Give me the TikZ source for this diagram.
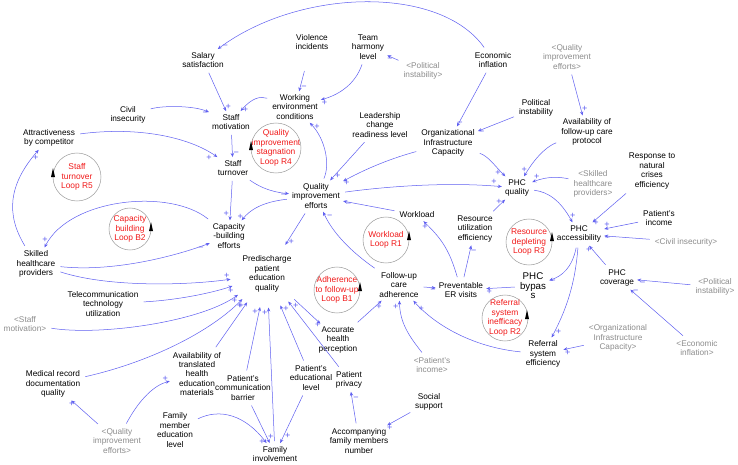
\documentclass[tikz,border=0pt]{standalone}
\usepackage{fontspec}
\setmainfont{Liberation Sans}
\usetikzlibrary{arrows.meta,shapes.geometric}
\definecolor{lnkblue}{RGB}{95,95,240}
\definecolor{shdgray}{RGB}{140,140,140}
\definecolor{loopred}{RGB}{240,25,25}
\begin{document}
\begin{tikzpicture}[x=0.75pt,y=-0.75pt,
  var/.style={align=center,inner sep=2.2pt,font=\fontsize{6.2}{7.1}\selectfont},
  shd/.style={var,text=shdgray},
  pde/.style={var,ellipse,inner sep=0pt,minimum width=55pt,minimum height=50pt},
  lnk/.style={draw=lnkblue,line width=0.38pt,shorten <=1.5pt,-{Stealth[length=3pt,width=2.5pt]}},
  sgn/.style={text=lnkblue,inner sep=0.8pt,font=\fontsize{6.8}{7}\selectfont},
  loopc/.style={draw=gray!75,line width=0.4pt},
  looptxt/.style={align=center,text=loopred,font=\fontsize{6.3}{7.1}\selectfont}]
\useasboundingbox (0,0) rectangle (738,464);

% Marking the variables
\node[var] (salary) at (203,60) {Salary\\satisfaction};
\node[var] (violence) at (312,42) {Violence\\incidents};
\node[var] (harmony) at (368,47) {Team\\harmony\\level};
\node[var] (inflation) at (493,60) {Economic\\inflation};
\node[shd] (polinstA) at (423,71) {<Political\\instability>};
\node[shd] (qieA) at (567,57) {<Quality\\improvement\\efforts>};
\node[var] (civil) at (128,115) {Civil\\insecurity};
\node[var] (motiv) at (231,122) {Staff\\motivation};
\node[var] (workenv) at (295,107) {Working\\environment\\conditions};
\node[var] (leader) at (380,125) {Leadership\\change\\readiness level};
\node[var] (polinst) at (536,108) {Political\\instability};
\node[var] (protocol) at (587,132) {Availability of\\follow-up care\\protocol};
\node[var] (orginfra) at (448,143) {Organizational\\Infrastructure\\Capacity};
\node[var] (attract) at (49,138) {Attractiveness\\by competitor};
\node[var] (turnover) at (233,168) {Staff\\turnover};
\node[var] (qie) at (316,196) {Quality\\improvement\\efforts};
\node[var] (phcq) at (517,188) {PHC\\quality};
\node[var] (crises) at (652,171) {Response to\\natural\\crises\\efficiency};
\node[shd] (skilledS) at (593,184) {<Skilled\\healthcare\\providers>};
\node[var] (income) at (659,218) {Patient's\\income};
\node[var] (access) at (579,234) {PHC\\accessibility};
\node[shd] (civilS) at (686,242) {<Civil insecurity>};
\node[var] (workload) at (417,215) {Workload};
\node[var] (resutil) at (475,229) {Resource\\utilization\\efficiency};
\node[var] (capbuild) at (229,236) {Capacity\\-building\\efforts};
\node[var] (skilled) at (36,264) {Skilled\\healthcare\\providers};
\node[pde] (predis) at (267,274) {Predischarge\\patient\\education\\quality};
\node[var] (coverage) at (617,278) {PHC\\coverage};
\node[shd] (polinstB) at (715,287) {<Political\\instability>};
\node[var] (adher) at (399,285) {Follow-up\\care\\adherence};
\node[var] (preventER) at (461,290) {Preventable\\ER visits};
\node[var,font=\fontsize{7.3}{7.2}\selectfont] (bypass) at (533,286) {PHC\\bypas\\s};
\node[var] (telecom) at (103,304) {Telecommunication\\technology\\utilization};
\node[shd] (motivS) at (25,324) {<Staff\\motivation>};
\node[var] (accurate) at (338,340) {Accurate\\health\\perception};
\node[shd] (orginfraS) at (618,338) {<Organizational\\Infrastructure\\Capacity>};
\node[shd] (inflationS) at (697,348) {<Economic\\inflation>};
\node[var] (referral) at (543,354) {Referral\\system\\efficiency};
\node[shd] (incomeS) at (432,365) {<Patient's\\income>};
\node[var] (medrec) at (53,384) {Medical record\\documentation\\quality};
\node[var] (translated) at (197,374) {Availability of\\translated\\health\\education\\materials};
\node[var] (commbar) at (243,388) {Patient's\\communication\\barrier};
\node[var] (edulevel) at (311,378) {Patient's\\educational\\level};
\node[var] (privacy) at (349,380) {Patient\\privacy};
\node[var] (social) at (429,402) {Social\\support};
\node[var] (accomp) at (359,441) {Accompanying\\family members\\number};
\node[var] (famedu) at (175,430) {Family\\member\\education\\level};
\node[var] (faminv) at (275,454) {Family\\involvement};
\node[shd] (qieB) at (117,441) {<Quality\\improvement\\efforts>};

% Drawing the loop markers
\node[looptxt] (loopR5) at (77,177) {Staff\\turnover\\Loop R5};
\draw[loopc] (loopR5) circle (24);
\fill (51,177) -- (55,177) -- (53,168) -- cycle;
\node[looptxt] (loopB2) at (130,229) {Capacity\\building\\Loop B2};
\draw[loopc] (loopB2) circle (21);
\fill (149,231) -- (153,231) -- (151,222) -- cycle;
\node[looptxt] (loopR4) at (276,148) {Quality\\improvement\\stagnation\\Loop R4};
\draw[loopc] (loopR4) circle (25);
\fill (249,150) -- (253,150) -- (251,141) -- cycle;
\node[looptxt] (loopR1) at (386,240) {Workload\\Loop R1};
\draw[loopc] (loopR1) circle (23);
\fill (407,240) -- (411,240) -- (409,231) -- cycle;
\node[looptxt] (loopB1) at (337,290) {Adherence\\to follow-up\\Loop B1};
\draw[loopc] (loopB1) circle (23);
\fill (358,291) -- (362,291) -- (360,282) -- cycle;
\node[looptxt] (loopR3) at (529,242) {Resource\\depleting\\Loop R3};
\draw[loopc] (loopR3) circle (23);
\fill (550,241) -- (554,241) -- (552,232) -- cycle;
\node[looptxt] (loopR2) at (505,318) {Referral\\system\\inefficacy\\Loop R2};
\draw[loopc] (loopR2) circle (23);
\fill (525,319) -- (529,319) -- (527,310) -- cycle;

% Drawing links around staff motivation
\draw[lnk] (inflation) .. controls (440,-15) and (300,-12) .. (salary) node[sgn,pos=.97,below]{−};
\draw[lnk] (salary) -- (motiv) node[sgn,pos=.9,right]{+};
\draw[lnk] (civil) .. controls (165,105) and (195,106) .. (motiv) node[sgn,pos=.92,below]{−};
\draw[lnk,shorten <=14pt] (violence) -- (workenv) node[sgn,pos=.9,right]{−};
\draw[lnk] (harmony) .. controls (355,85) and (338,95) .. (workenv) node[sgn,pos=.93,below]{+};
\draw[lnk] (polinstA) -- (harmony) node[sgn,pos=.8,below]{−};
\draw[lnk] (workenv) .. controls (260,96) and (252,98) .. (motiv) node[sgn,pos=.85,below]{+};
\draw[lnk] (motiv) -- (turnover) node[sgn,pos=.85,right]{−};
\draw[lnk] (attract) .. controls (140,126) and (190,138) .. (turnover) node[sgn,pos=.95,below left]{+};
\draw[lnk] (turnover) .. controls (258,186) and (270,192) .. (qie) node[sgn,pos=.9,below]{−};
\draw[lnk] (qie) .. controls (330,165) and (326,140) .. (workenv) node[sgn,pos=.93,right]{+};

% Drawing links into quality improvement efforts
\draw[lnk] (leader) -- (qie) node[sgn,pos=.9,right]{+};
\draw[lnk] (orginfra) .. controls (385,160) and (360,172) .. (qie) node[sgn,pos=.93,below]{+};
\draw[lnk] (inflation) -- (orginfra) node[sgn,pos=.9,below]{−};
\draw[lnk] (polinst) -- (orginfra) node[sgn,pos=.9,below]{−};
\draw[lnk] (workload) -- (qie) node[sgn,pos=.9,below]{−};
\draw[lnk] (adher) .. controls (360,258) and (335,238) .. (qie) node[sgn,pos=.93,right]{−};

% Drawing links into PHC quality and accessibility
\draw[lnk] (qieA) -- (protocol) node[sgn,pos=.85,right]{+};
\draw[lnk] (protocol) .. controls (550,145) and (538,153) .. (phcq) node[sgn,pos=.9,left]{+};
\draw[lnk] (orginfra) .. controls (488,156) and (494,165) .. (phcq) node[sgn,pos=.9,left]{+};
\draw[lnk] (qie) .. controls (390,186) and (450,182) .. (phcq) node[sgn,pos=.95,above]{+};
\draw[lnk] (resutil) -- (phcq) node[sgn,pos=.85,left]{+};
\draw[lnk] (skilledS) .. controls (560,177) and (548,176) .. (phcq) node[sgn,pos=.9,above]{+};
\draw[lnk] (phcq) .. controls (548,192) and (560,200) .. (access) node[sgn,pos=.9,right]{+};
\draw[lnk] (crises) -- (access) node[sgn,pos=.9,below]{+};
\draw[lnk] (income) -- (access) node[sgn,pos=.92,above]{+};
\draw[lnk] (civilS) -- (access) node[sgn,pos=.93,below]{−};
\draw[lnk] (coverage) -- (access) node[sgn,pos=.8,left]{+};
\draw[lnk] (polinstB) -- (coverage) node[sgn,pos=.9,below]{−};
\draw[lnk] (inflationS) -- (coverage) node[sgn,pos=.9,above]{−};

% Drawing links of the referral chain
\draw[lnk] (access) .. controls (572,268) and (562,276) .. (bypass) node[sgn,pos=.9,below]{−};
\draw[lnk] (access) .. controls (575,285) and (566,310) .. (referral) node[sgn,pos=.93,right]{+};
\draw[lnk] (orginfraS) -- (referral) node[sgn,pos=.8,below]{+};
\draw[lnk] (referral) .. controls (480,348) and (440,330) .. (adher) node[sgn,pos=.95,below right]{+};
\draw[lnk] (bypass) -- (preventER) node[sgn,pos=.9,below]{+};
\draw[lnk] (adher) -- (preventER) node[sgn,pos=.8,below]{−};
\draw[lnk] (preventER) .. controls (450,252) and (443,240) .. (workload) node[sgn,pos=.9,left]{+};
\draw[lnk] (preventER) -- (resutil) node[sgn,pos=.8,right]{−};

% Drawing links around capacity building
\draw[lnk] (qie) .. controls (262,202) and (250,210) .. (capbuild) node[sgn,pos=.9,left]{+};
\draw[lnk] (qie) -- (predis) node[sgn,pos=.9,right]{+};
\draw[lnk] (turnover) -- (capbuild) node[sgn,pos=.85,left]{+};
\draw[lnk] (capbuild) .. controls (170,188) and (70,198) .. (skilled) node[sgn,pos=.95,left]{+};
\draw[lnk] (skilled) .. controls (110,272) and (170,258) .. (capbuild) node[sgn,pos=.93,below]{−};
\draw[lnk] (skilled) .. controls (6,215) and (8,185) .. (attract) node[sgn,pos=.92,right]{+};

% Drawing links into predischarge patient education quality
\draw[lnk] (skilled) .. controls (110,288) and (190,285) .. (predis) node[sgn,pos=.97,above]{+};
\draw[lnk] (telecom) .. controls (180,300) and (215,292) .. (predis) node[sgn,pos=.97,below]{+};
\draw[lnk] (motivS) .. controls (100,336) and (200,322) .. (predis) node[sgn,pos=.97,below]{+};
\draw[lnk] (medrec) .. controls (150,362) and (210,332) .. (predis) node[sgn,pos=.97,below]{+};
\draw[lnk] (translated) -- (predis) node[sgn,pos=.93,left]{+};
\draw[lnk] (commbar) -- (predis) node[sgn,pos=.93,left]{+};
\draw[lnk] (faminv) -- (predis) node[sgn,pos=.96,left]{+};
\draw[lnk] (edulevel) -- (predis) node[sgn,pos=.93,right]{+};
\draw[lnk] (privacy) -- (predis) node[sgn,pos=.93,right]{+};
\draw[lnk] (predis) -- (accurate) node[sgn,pos=.9,below]{+};
\draw[lnk] (accurate) -- (adher) node[sgn,pos=.9,below]{+};
\draw[lnk] (incomeS) .. controls (408,335) and (400,322) .. (adher) node[sgn,pos=.9,left]{+};

% Drawing links of the family side
\draw[lnk] (social) -- (accomp) node[sgn,pos=.9,below]{+};
\draw[lnk] (accomp) -- (privacy) node[sgn,pos=.8,right]{−};
\draw[lnk] (edulevel) -- (faminv) node[sgn,pos=.85,right]{+};
\draw[lnk] (famedu) .. controls (220,408) and (245,415) .. (faminv) node[sgn,pos=.93,below]{+};
\draw[lnk] (commbar) -- (faminv) node[sgn,pos=.85,right]{+};
\draw[lnk] (qieB) -- (medrec) node[sgn,pos=.85,left]{+};
\draw[lnk] (qieB) .. controls (140,398) and (155,385) .. (translated) node[sgn,pos=.9,above]{+};
\end{tikzpicture}
\end{document}
